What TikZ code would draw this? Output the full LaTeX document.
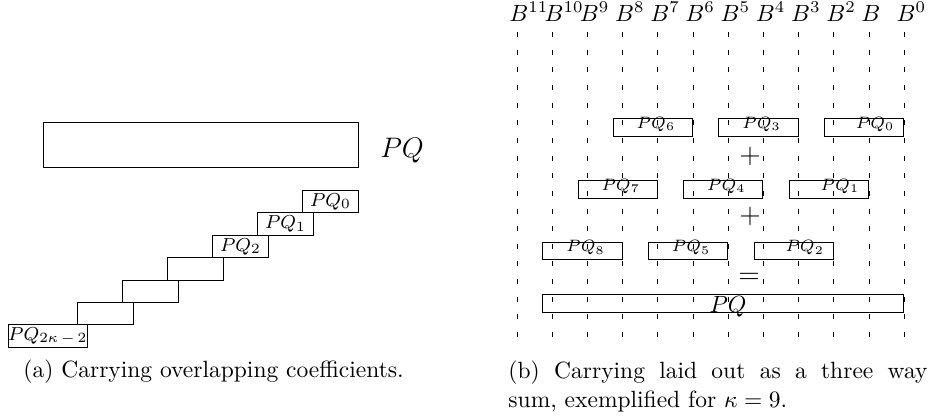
\documentclass[tikz,border=0pt]{standalone}
\usetikzlibrary{calc}
\begin{document}
\def\px{0.4255pt}
\begin{tikzpicture}[x=0.4255pt,y=-0.4255pt,
  coefbox/.style={draw, line width=0.4pt, inner sep=0pt, minimum width={79.2*\px}, minimum height={17.5*\px}, anchor=north east},
  stairbox/.style={draw, line width=0.4pt, inner sep=0pt, minimum width={56*\px}, minimum height={22.4*\px}, anchor=north west, font=\footnotesize},
  coeflabel/.style={inner sep=0pt, font=\scriptsize, anchor=base},
  guide/.style={line width=0.4pt, dash pattern=on 2.13pt off 5.38pt},
  blabel/.style={anchor=base west, inner sep=0pt},
  opsign/.style={inner sep=0pt, font=\large},
  caption/.style={anchor=base west, inner sep=0pt},
]
\useasboundingbox (0,0) rectangle (935,416);

% ---------- left panel ----------
\node[draw, line width=0.4pt, inner sep=0pt, minimum width={315*\px}, minimum height={45*\px}, anchor=north west] (prod) at (43,122) {};
\node[anchor=base, inner sep=0pt, font=\large] (prodlabel) at (402,157) {$PQ$};
\node[stairbox] (s0) at (302,190) {$PQ_0$};
\node[stairbox] (s1) at (257,212.4) {$PQ_1$};
\node[stairbox] (s2) at (212,234.8) {$PQ_2$};
\node[stairbox] (s3) at (167,257.2) {};
\node[stairbox] (s4) at (122,279.6) {};
\node[stairbox] (s5) at (77,302) {};
\node[stairbox, anchor=north east, minimum width={78*\px}] (s6) at (88,324.4) {$PQ_{2\kappa\mkern3mu-\mkern3mu2}$};
\node[caption] (capa) at (23,377) {(a) Carrying overlapping coefficients.};

% ---------- right panel ----------
\foreach \i in {0,...,11}{
  \coordinate (gt\i) at ({904.2-35.2*\i},32);
  \coordinate (gb\i) at ({904.2-35.2*\i},338);
  \draw[guide] (gt\i) -- (gb\i);
}
\foreach \i in {0,2,3,4,5,6,7,8,9,10,11}{
  \node[blabel] (B\i) at ({904.2-35.2*\i-8},21.5) {$B^{\i}$};
}
\node[blabel] (B1) at ({904.2-35.2-8},21.5) {$B$};

\foreach \k in {0,...,8}{
  \pgfmathtruncatemacro\r{mod(\k,3)}
  \pgfmathsetmacro\dx{\k<3 ? 11 : 3}
  \node[coefbox] (c\k) at ({904.2-35.2*\k},{118.3+61.7*\r}) {};
  \node[coeflabel] (l\k) at ($(c\k.north)+(\dx,10)$) {$PQ_{\k}$};
}
\node[draw, line width=0.4pt, inner sep=0pt, minimum width={360.8*\px}, minimum height={17.4*\px}, anchor=north east] (pq) at (904.2,294.3) {};
\node[anchor=base, inner sep=0pt] (pqlabel) at (728,312.5) {$PQ$};

\node[opsign] (plus1) at (750,156) {$+$};
\node[opsign] (plus2) at (750,216.7) {$+$};
\node[opsign] (eq) at (749,278) {$=$};

\node[caption] (capb1) at (508,378) {\makebox[178.3pt][s]{(b) Carrying laid out as a three way}};
\node[caption] (capb2) at (508,407) {sum, exemplified for $\kappa=9$.};
\end{tikzpicture}
\end{document}
